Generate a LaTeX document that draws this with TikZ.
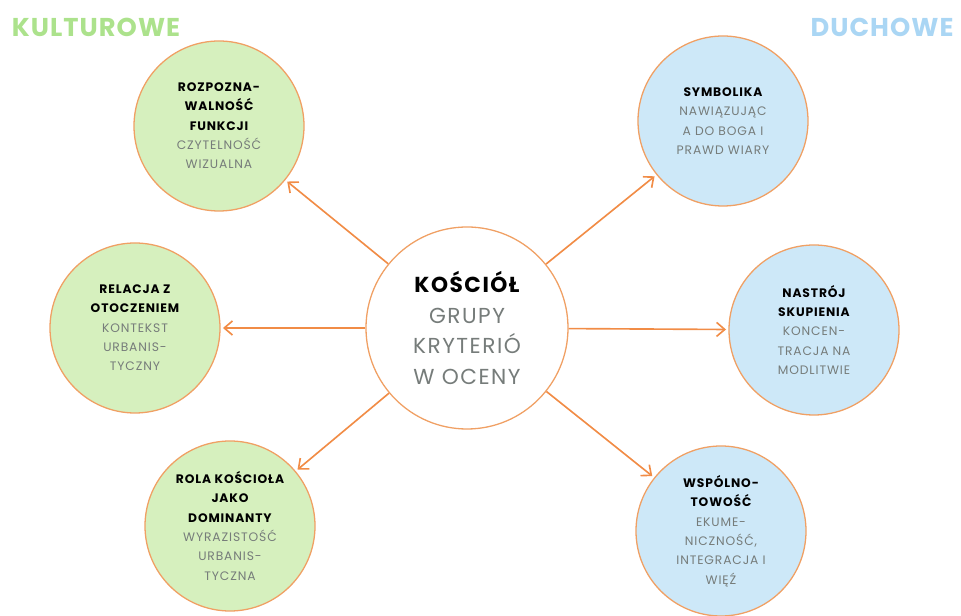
\documentclass[tikz,border=0pt]{standalone}
\usepackage{fontspec}
\setmainfont{Poppins}
\newfontfamily\headfont[LetterSpace=4]{Poppins}
\newfontfamily\circfont[LetterSpace=7]{Poppins}
\usetikzlibrary{arrows.meta}
\definecolor{ringorange}{RGB}{240,160,100}
\definecolor{arrorange}{RGB}{241,140,70}
\definecolor{kulgreen}{RGB}{214,240,190}
\definecolor{duchblue}{RGB}{205,232,248}
\definecolor{kulhead}{RGB}{172,226,140}
\definecolor{duchhead}{RGB}{170,214,244}
\definecolor{subgray}{RGB}{118,124,122}
\newcommand{\ttl}[1]{{\bfseries\color{black}#1}}
\newcommand{\sub}[1]{{\color{subgray}#1}}
\begin{document}
\begin{tikzpicture}[
		crit/.style={circle,draw=ringorange,line width=1.1pt,minimum size=5.1cm,inner sep=0pt,align=center,
			font=\circfont\fontsize{10.5}{16.5}\selectfont},
		kul/.style={crit,fill=kulgreen},
		duch/.style={crit,fill=duchblue},
		arr/.style={draw=arrorange,line width=1.4pt,-{Straight Barb[length=7pt,width=12pt,line width=1.4pt]},shorten >=2pt}
	]
	\useasboundingbox (0,0) rectangle (28.83,18.48);
	% srodek
	\node[circle,draw=ringorange,line width=1.1pt,fill=white,minimum size=6.06cm,inner sep=0pt,align=center,
		font=\circfont\fontsize{18.5}{26}\selectfont] (c) at (14.01,8.64)
		{\ttl{KOŚCIÓŁ}\\\sub{GRUPY}\\\sub{KRYTERIÓ}\\\sub{W OCENY}};
	% kulturowe
	\node[kul] (k1) at (6.57,14.7) {\ttl{ROZPOZNA-}\\\ttl{WALNOŚĆ}\\\ttl{FUNKCJI}\\\sub{CZYTELNOŚĆ}\\\sub{WIZUALNA}};
	\node[kul] (k2) at (4.05,8.64) {\ttl{RELACJA Z}\\\ttl{OTOCZENIEM}\\\sub{KONTEKST}\\\sub{URBANIS-}\\\sub{TYCZNY}};
	\node[kul] (k3) at (6.9,2.7) {\ttl{ROLA KOŚCIOŁA}\\\ttl{JAKO}\\\ttl{DOMINANTY}\\\sub{WYRAZISTOŚĆ}\\\sub{URBANIS-}\\\sub{TYCZNA}};
	% duchowe
	\node[duch] (d1) at (21.69,14.85) {\ttl{SYMBOLIKA}\\\sub{NAWIĄZUJĄC}\\\sub{A DO BOGA I}\\\sub{PRAWD WIARY}};
	\node[duch] (d2) at (24.42,8.58) {\ttl{NASTRÓJ}\\\ttl{SKUPIENIA}\\\sub{KONCEN-}\\\sub{TRACJA NA}\\\sub{MODLITWIE}};
	\node[duch] (d3) at (21.63,2.55) {\ttl{WSPÓLNO-}\\\ttl{TOWOŚĆ}\\\sub{EKUME-}\\\sub{NICZNOŚĆ,}\\\sub{INTEGRACJA I}\\\sub{WIĘŹ}};
	% naglowki
	\node[font=\headfont\bfseries\fontsize{22}{24}\selectfont,text=kulhead] (hk) at (2.88,17.67) {KULTUROWE};
	\node[font=\headfont\bfseries\fontsize{22}{24}\selectfont,text=duchhead] (hd) at (26.46,17.67) {DUCHOWE};
	% strzalki
	\foreach \t in {k1,k2,k3,d1,d2,d3}
		\draw[arr] (c) -- (\t);
\end{tikzpicture}
\end{document}
